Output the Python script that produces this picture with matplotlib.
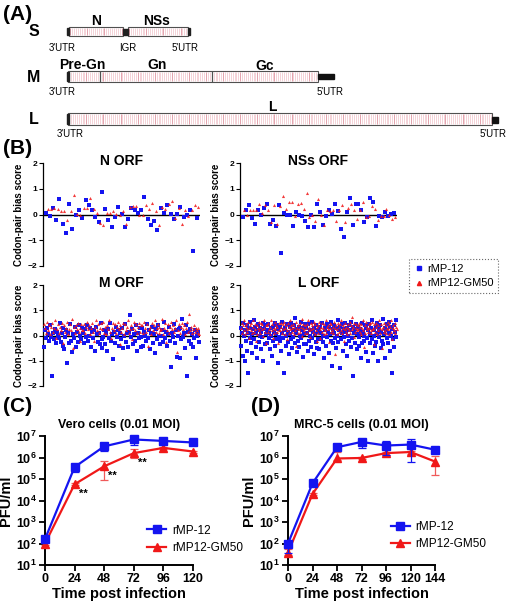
import matplotlib
matplotlib.use("Agg")
import matplotlib.pyplot as plt
import numpy as np
from matplotlib.patches import Rectangle
from matplotlib.ticker import FixedLocator, FuncFormatter

plt.rcParams['font.family'] = ['Liberation Sans', 'DejaVu Sans']
plt.rcParams['mathtext.fontset'] = 'custom'
plt.rcParams['mathtext.rm'] = 'Liberation Sans:bold'
plt.rcParams['mathtext.bf'] = 'Liberation Sans:bold'
plt.rcParams['mathtext.default'] = 'bf'

W, H = 512, 603
BLUE = '#1414f0'
RED = '#f01818'

# ---- codon-pair bias scores ----
n_blue = [0.05, -0.04, 0.26, -0.2, 0.61, -0.35, -0.71, 0.39, -0.55, -0.01, 0.17, -0.13,
          0.55, 0.35, 0.16, -0.1, -0.3, 0.87, 0.22, -0.22, -0.49, -0.09, 0.31, 0.03,
          -0.49, -0.17, 0.26, 0.18, 0.04, 0.19, 0.68, -0.18, -0.39, -0.26, -0.6, 0.25,
          0.04, 0.36, 0.03, -0.17, 0.03, 0.29, -0.1, -0.01, 0.19, -1.4, -0.12]
n_red = [0.23, 0.22, 0.25, 0.23, 0.13, 0.13, -0.21, 0.12, 0.77, 0.03, 0.0, 0.25,
         0.25, 0.64, 0.22, 0.05, -0.34, -0.42, 0.06, 0.06, 0.12, 0.03, 0.0, 0.13,
         -0.35, 0.31, 0.32, 0.34, -0.01, -0.03, 0.36, 0.22, 0.43, 0.14, -0.42, 0.3,
         0.22, 0.39, 0.53, -0.13, 0.26, -0.36, 0.18, -0.05, 0.19, 0.35, 0.29]
nss_blue = [-0.09, 0.19, 0.35, -0.13, -0.36, 0.16, -0.03, 0.25, 0.39, -0.36, -0.22, -0.43,
            0.36, -1.49, 0.04, -0.03, -0.03, -0.43, 0.1, -0.03, -0.04, -0.27, -0.47, -0.03,
            -0.47, 0.39, 0.09, -0.39, -0.06, 0.18, 0.01, 0.42, 0.13, -0.58, -0.87, 0.1,
            0.65, -0.42, 0.42, 0.39, 0.16, -0.31, -0.08, 0.65, 0.47, -0.45, -0.05, -0.09,
            0.1, -0.04, 0.03, 0.04]
nss_red = [0.18, 0.0, 0.19, 0.16, 0.16, 0.39, 0.04, 0.35, 0.19, -0.31, 0.36, -0.36,
           0.32, 0.7, 0.23, 0.49, 0.49, -0.06, 0.42, 0.43, 0.23, 0.83, -0.1, 0.0,
           -0.26, 0.6, -0.03, -0.39, 0.17, 0.13, 0.16, -0.26, 0.19, 0.38, -0.3, 0.26,
           0.4, 0.19, -0.19, 0.19, 0.49, -0.09, -0.06, 0.34, 0.22, -0.23, -0.04, -0.05,
           0.23, -0.03, -0.19, -0.1]
m_blue_txt = """
-0.45 0.2 -0.1 0.3 0.05 -0.2 0.4 -0.05 -1.6 0.1 -0.15 0.25 -0.3 0.15 0.0 -0.1 0.5 -0.25 0.1 -0.4
0.3 -0.55 -0.05 0.2 -1.1 0.1 -0.3 0.45 -0.2 -0.65 0.05 -0.1 0.35 -0.45 0.15 -0.25 0.4 0.0 -0.15 0.3
0.1 -0.3 0.25 -0.05 0.4 -0.2 0.0 0.3 -0.45 0.15 -0.1 0.2 -0.6 0.35 0.05 -0.25 0.1 -0.35 0.5 -0.15
-0.5 -0.05 0.2 -0.35 0.1 -0.6 0.25 -0.1 0.5 -0.2 0.05 -0.95 0.15 -0.3 0.35 -0.05 0.2 -0.4 0.1 -0.15
0.3 -0.5 0.0 0.45 -0.25 0.1 -0.45 0.15 0.8 -0.05 0.25 -0.35 0.05 -0.2 0.4 -0.6 0.1 -0.1 0.3 -0.45
-0.05 0.3 -0.4 0.15 0.0 -0.2 0.45 -0.1 0.2 -0.55 0.1 0.35 -0.3 0.05 -0.7 0.25 -0.15 0.4 0.0 -0.35
0.0 0.2 -0.25 0.55 -0.1 0.15 -0.4 0.05 0.35 -0.2 -1.25 0.1 -0.05 0.45 -0.3 0.2 -0.85 0.0 0.25 -0.9
0.3 -0.15 0.65 -0.05 0.1 -0.5 0.4 -1.6 0.15 -0.2 0.25 -0.35 0.05 -0.45 -0.1 0.2 -0.9 0.0 0.15 -0.25
"""
m_red_txt = """
0.45 0.3 0.1 0.55 0.2 0.4 0.05 0.35 0.5 0.15 0.3 0.6 -0.1 0.25 0.45 0.1 0.35 0.2 0.5 -0.3
0.4 0.15 0.3 0.55 0.05 0.25 0.45 0.2 0.65 -0.5 0.35 0.1 0.4 0.25 0.5 0.15 0.3 -0.2 0.45 0.2
0.2 0.45 0.1 0.35 0.55 0.25 0.4 0.05 0.3 0.5 0.15 -0.2 0.35 0.6 0.2 0.45 0.1 0.3 0.5 0.25
0.55 0.1 0.35 0.05 0.4 0.25 0.6 0.15 -0.1 0.3 0.5 0.2 0.45 0.1 0.35 0.55 0.25 -0.35 0.4 0.15
0.3 0.5 0.05 0.45 0.2 0.35 0.6 0.1 0.25 0.4 -0.15 0.3 0.55 0.2 0.45 0.1 0.35 0.5 0.15 0.4
0.4 0.1 0.55 0.3 0.15 0.45 -0.4 0.25 0.35 0.05 0.5 0.2 0.4 0.6 0.15 0.3 0.45 0.1 0.35 0.2
0.25 0.65 0.05 0.3 0.5 -0.25 0.2 0.45 0.1 0.35 0.55 0.25 0.4 0.15 0.3 0.6 -0.65 0.2 0.45 0.1
0.35 0.5 0.25 0.4 0.05 0.3 0.55 0.15 0.85 0.2 0.35 0.1 0.25 0.4 0.15 0.3 0.2 0.1 0.3 0.05
"""
l_blue_txt = """
0.3 -0.4 0.1 -0.8 0.5 0.0 -1.0 0.2 -0.2 0.4 -0.6 0.1 -1.5 0.3 -0.1 0.55 -0.3 0.05 -0.7 0.25
0.6 -0.15 0.35 -0.45 0.1 -0.9 0.2 0.45 -0.25 0.0 0.3 -0.55 0.15 -0.05 0.5 -1.0 0.25 -0.35 0.4 0.05
0.2 -0.3 0.45 -0.1 0.1 -0.55 0.3 0.0 -0.8 0.35 -0.2 0.15 0.5 -0.4 0.05 -0.15 0.4 -1.1 0.25 -0.05
-0.2 0.35 -0.6 0.1 0.55 -0.1 0.2 -1.5 0.3 -0.4 0.0 0.45 -0.25 0.15 -0.75 0.35 0.05 -0.15 0.5 -0.5
0.2 -0.05 0.4 -0.3 0.7 0.1 -0.65 0.25 -0.2 0.35 -0.45 0.0 0.55 -0.1 0.2 -0.85 0.3 0.05 -0.35 0.45
-0.35 0.3 0.1 -0.6 0.45 -0.2 0.2 0.0 -0.45 0.55 -0.1 0.15 -0.75 0.3 0.05 -0.25 0.4 -0.5 0.2 -0.15
0.15 -0.55 0.35 -0.15 0.1 0.5 -0.25 0.0 -0.9 0.3 0.2 -0.4 0.45 -0.05 0.15 -0.7 0.35 0.05 -0.2 0.55
-1.2 0.25 -0.3 0.1 0.4 -0.1 0.3 -0.5 0.0 0.6 -0.25 0.2 -1.3 0.35 -0.15 0.1 0.45 -0.6 0.25 -0.05
0.5 -0.35 0.15 -0.8 0.3 0.0 0.4 -0.2 0.2 -0.45 0.55 -0.1 0.35 -1.6 0.1 -0.3 0.25 0.45 -0.55 0.05
0.35 -0.05 -0.4 0.25 0.1 -0.9 0.5 -0.3 0.15 0.0 -0.2 0.4 -0.65 0.3 -0.1 0.2 -1.0 0.45 0.05 -0.3
0.3 -0.15 0.6 -0.7 0.2 0.0 -0.4 0.35 -0.25 0.1 0.5 -1.0 0.25 -0.05 0.4 -0.5 0.15 -0.2 0.65 -0.35
0.05 0.3 -0.9 0.2 -0.1 0.45 -0.3 0.1 0.55 -0.6 0.35 0.0 -1.5 0.25 -0.15 0.4 -0.45 0.15 0.6 -0.05
"""
l_red_txt = """
0.3 0.5 0.1 0.4 0.2 0.6 0.05 0.35 0.45 0.15 0.25 0.55 -0.1 0.3 0.4 0.2 0.5 0.1 0.35 0.6
0.15 0.45 0.25 -0.2 0.4 0.05 0.3 0.55 0.2 0.35 0.1 0.5 0.25 0.45 0.0 0.3 0.6 0.15 -0.3 0.4
0.4 0.15 0.5 0.25 0.05 0.35 0.6 0.2 0.45 -0.1 0.3 0.1 0.55 0.25 0.4 0.15 0.35 -0.3 0.5 0.2
0.2 0.35 0.5 0.1 0.45 0.25 0.55 0.05 0.3 0.4 -0.15 0.2 0.5 0.35 0.1 0.6 0.25 0.4 0.15 0.3
0.45 0.05 0.35 0.2 0.55 -0.4 0.3 0.1 0.4 0.25 0.5 0.15 0.35 0.65 0.0 0.3 0.45 0.2 0.1 0.4
0.3 0.45 0.1 0.6 0.2 0.35 -0.05 0.5 0.25 0.4 0.15 0.3 0.55 0.05 0.45 0.2 0.35 -0.2 0.4 0.1
0.55 0.25 -0.1 0.35 0.15 0.5 0.3 0.05 0.45 0.2 0.6 0.1 0.35 0.25 0.4 -0.25 0.3 0.5 0.15 0.45
0.2 0.35 0.1 0.55 0.3 -0.75 0.4 0.25 0.05 0.5 0.15 0.35 0.45 0.2 0.6 0.1 0.3 0.4 -0.2 0.25
0.5 0.15 0.35 0.05 0.45 0.3 0.2 0.55 0.1 0.4 0.75 0.25 0.35 -0.05 0.5 0.15 0.3 0.45 0.2 0.4
0.25 0.5 0.15 0.35 0.45 0.05 0.3 0.6 0.2 -0.45 0.4 0.1 0.55 0.25 0.35 0.15 0.45 0.3 0.5 0.2
0.1 0.55 0.3 0.25 -0.35 0.45 0.15 0.35 0.5 0.05 0.4 0.2 0.6 0.3 0.1 0.45 -0.5 0.25 0.35 0.15
0.5 0.2 0.4 0.1 0.3 0.55 0.25 0.05 0.45 0.35 0.15 0.6 -0.15 0.3 0.4 0.2 0.5 0.1 0.35 0.25
"""
m_blue = [float(v) for v in m_blue_txt.split()]
m_red = [float(v) for v in m_red_txt.split()]
l_blue = [float(v) for v in l_blue_txt.split()]
l_red = [float(v) for v in l_red_txt.split()]

# ---- growth kinetics ----
vero_t = [0, 24, 48, 72, 96, 120]
vero_mp12 = [160, 3.6e5, 3.3e6, 6.9e6, 5.9e6, 5.0e6]
vero_mp12_lo = [130, 2.2e5, 2.0e6, 3.8e6, 5.5e6, 4.6e6]
vero_mp12_hi = [190, 4.5e5, 4.2e6, 7.8e6, 6.3e6, 5.4e6]
vero_gm50 = [100, 5.7e4, 3.9e5, 1.6e6, 2.8e6, 1.9e6]
vero_gm50_lo = [85, 5.0e4, 8.7e4, 1.0e6, 2.5e6, 1.7e6]
vero_gm50_hi = [115, 6.5e4, 6.9e5, 2.5e6, 3.1e6, 2.1e6]
vero_sig = [24, 48, 72]

mrc_t = [0, 24, 48, 72, 96, 120, 144]
mrc_mp12 = [100, 6.3e4, 3.0e6, 5.3e6, 3.6e6, 4.0e6, 2.3e6]
mrc_mp12_lo = [38, 5.5e4, 2.6e6, 2.7e6, 1.3e6, 6.5e5, 2.0e6]
mrc_mp12_hi = [130, 7.2e4, 3.4e6, 7.4e6, 6.0e6, 6.9e6, 2.6e6]
mrc_gm50 = [38, 2.0e4, 9.0e5, 9.5e5, 1.6e6, 1.8e6, 6.5e5]
mrc_gm50_lo = [28, 1.8e4, 8.0e5, 8.5e5, 1.3e6, 1.5e6, 1.5e5]
mrc_gm50_hi = [55, 2.2e4, 1.9e6, 1.05e6, 1.9e6, 2.1e6, 1.2e6]


def rect(x0, y0, x1, y1):
    return [x0 / W, 1 - y1 / H, (x1 - x0) / W, (y1 - y0) / H]


fig = plt.figure(figsize=(W / 100, H / 100), dpi=100)

# ---------------- (A) genome schematic ----------------
ax0 = fig.add_axes([0, 0, 1, 1])
ax0.set_xlim(0, W)
ax0.set_ylim(H, 0)
ax0.axis('off')


def orf_box(x0, x1, y0, y1):
    ax0.add_patch(Rectangle((x0, y0), x1 - x0, y1 - y0, facecolor='white',
                            edgecolor='#505050', lw=0.8, zorder=2))
    xs = np.arange(x0 + 1.2, x1 - 0.5, 1.9)
    ax0.vlines(xs, y0 + 0.6, y1 - 0.6, colors='#efb9c2', lw=0.45, zorder=3)
    ax0.vlines(xs[::9], y0 + 0.6, y1 - 0.6, colors='#d98a98', lw=0.45, zorder=3)


# S segment
orf_box(69, 123, 27, 36)
orf_box(128, 188, 27, 36)
ax0.add_patch(Rectangle((67, 28), 2, 7, color='#202020', zorder=4))
ax0.add_patch(Rectangle((123, 28.5), 5, 6, color='#202020', zorder=4))
ax0.add_patch(Rectangle((188, 28), 2, 7, color='#202020', zorder=4))
# M segment
orf_box(68, 318, 71, 82)
ax0.vlines([100, 212], 71, 82, colors='#505050', lw=0.9, zorder=4)
ax0.add_patch(Rectangle((67, 72), 1.5, 9, color='#202020', zorder=4))
ax0.add_patch(Rectangle((318, 74), 16, 4.5, color='#111111', zorder=4))
# L segment
orf_box(68, 492, 113, 125)
ax0.add_patch(Rectangle((67, 114), 1.5, 10, color='#202020', zorder=4))
ax0.add_patch(Rectangle((492, 117), 6, 5.5, color='#111111', zorder=4))

bold = dict(fontweight='bold', ha='center', va='center')
for name, y in [('S', 31), ('M', 77), ('L', 119)]:
    ax0.text(34, y, name, fontsize=11.5, **bold)
for name, x, y in [('N', 96, 21), ('NSs', 157, 21), ('Pre-Gn', 82, 65),
                   ('Gn', 157, 65), ('Gc', 265, 66), ('L', 272, 107)]:
    ax0.text(x, y, name, fontsize=10, **bold)
for name, x, y in [("3'UTR", 62, 48), ('IGR', 128, 48), ("5'UTR", 185, 48),
                   ("3'UTR", 62, 92), ("5'UTR", 330, 92),
                   ("3'UTR", 70, 134), ("5'UTR", 493, 134)]:
    ax0.text(x, y, name, fontsize=7, ha='center', va='center')

for lab, x, y in [('(A)', 18, 14), ('(B)', 18, 148), ('(C)', 18, 407), ('(D)', 266, 407)]:
    ax0.text(x, y, lab, fontsize=15, **bold)

# ---------------- (B) codon-pair bias ----------------
b_panels = [('N ORF', n_blue, n_red, (43, 163, 200, 266)),
            ('NSs ORF', nss_blue, nss_red, (240, 163, 397, 266)),
            ('M ORF', m_blue, m_red, (43, 285, 200, 386)),
            ('L ORF', l_blue, l_red, (240, 285, 397, 386))]
for title, blue, red, box in b_panels:
    ax = fig.add_axes(rect(*box))
    n = max(len(blue), len(red))
    big = n > 80
    ax.scatter(np.arange(len(blue)), blue, marker='s', s=5 if big else 7,
               color=BLUE, lw=0, zorder=3, clip_on=False)
    ax.scatter(np.arange(len(red)) + 0.45, red, marker='^', s=5 if big else 5,
               color=RED, lw=0, zorder=3, alpha=0.85, clip_on=False)
    ax.axhline(0, color='black', lw=1.0, zorder=2)
    ax.set_xlim(-1, n)
    ax.set_ylim(-2, 2)
    ax.set_yticks([-2, -1, 0, 1, 2])
    ax.tick_params(axis='y', labelsize=6, length=3, width=0.8, pad=1)
    for t in ax.get_yticklabels():
        t.set_fontweight('bold')
    ax.set_xticks([])
    for s in ['top', 'right', 'bottom']:
        ax.spines[s].set_visible(False)
    ax.spines['left'].set_linewidth(0.9)
    ax.set_title(title, fontsize=10, fontweight='bold', y=0.9)
    ax.set_ylabel('Codon-pair bias score', fontsize=7, fontweight='bold', labelpad=3)

hb = plt.Line2D([], [], marker='s', ls='none', color=BLUE, markersize=3)
hr = plt.Line2D([], [], marker='^', ls='none', color=RED, markersize=3)
leg = fig.legend([hb, hr], ['rMP-12', 'rMP12-GM50'], loc='center',
                 bbox_to_anchor=(453.5 / W, 1 - 276 / H), fontsize=8,
                 frameon=True, fancybox=False, handletextpad=0.3,
                 borderpad=0.4, labelspacing=0.45, handlelength=1.0)
leg.get_frame().set_linestyle(':')
leg.get_frame().set_edgecolor('#444444')
leg.get_frame().set_linewidth(0.8)

# ---------------- (C), (D) growth curves ----------------
def growth(box, t, a, alo, ahi, b, blo, bhi, title, leg_xy, sig=None):
    ax = fig.add_axes(rect(*box))
    ax.errorbar(t, a, yerr=[np.array(a) - np.array(alo), np.array(ahi) - np.array(a)],
                color=BLUE, marker='s', markersize=6, lw=1.6, capsize=3,
                elinewidth=0.9, capthick=0.9, clip_on=False, zorder=4)
    ax.errorbar(t, b, yerr=[np.array(b) - np.array(blo), np.array(bhi) - np.array(b)],
                color=RED, marker='^', markersize=6, lw=1.6, capsize=3,
                elinewidth=0.9, capthick=0.9, clip_on=False, zorder=3,
                ecolor='#f05a5a')
    ax.set_yscale('log')
    ax.set_ylim(10, 1e7)
    ax.set_xlim(0, t[-1])
    ax.set_xticks(t)
    ax.yaxis.set_major_locator(FixedLocator([10 ** k for k in range(1, 8)]))
    ax.yaxis.set_major_formatter(FuncFormatter(lambda v, p: r'$10^{%d}$' % round(np.log10(v))))
    ax.yaxis.set_minor_locator(FixedLocator([]))
    ax.tick_params(labelsize=9, width=1.3, length=4, pad=2)
    for tl in ax.get_xticklabels():
        tl.set_fontweight('bold')
    for s in ['top', 'right']:
        ax.spines[s].set_visible(False)
    for s in ['left', 'bottom']:
        ax.spines[s].set_linewidth(1.4)
    ax.set_title(title, fontsize=9, fontweight='bold', pad=6)
    ax.set_xlabel('Time post infection', fontsize=10.5, fontweight='bold', labelpad=1)
    ax.set_ylabel('PFU/ml', fontsize=10.5, fontweight='bold', labelpad=2)
    if sig is not None:
        for tt in sig:
            i = t.index(tt)
            ax.annotate('**', (tt, b[i]), xytext=(3, -9), textcoords='offset points',
                        fontsize=8, fontweight='bold')
    h1 = plt.Line2D([], [], color=BLUE, marker='s', markersize=6, lw=1.6)
    h2 = plt.Line2D([], [], color=RED, marker='^', markersize=6, lw=1.6)
    ax.legend([h1, h2], ['rMP-12', 'rMP12-GM50'], loc='center left',
              bbox_to_anchor=leg_xy, fontsize=8.5, frameon=False, handlelength=1.6,
              handletextpad=0.5, labelspacing=0.45, borderpad=0, borderaxespad=0)
    return ax


growth((45, 436, 193, 565), vero_t, vero_mp12, vero_mp12_lo, vero_mp12_hi,
       vero_gm50, vero_gm50_lo, vero_gm50_hi, 'Vero cells (0.01 MOI)', (0.69, 0.20),
       sig=vero_sig)
growth((288, 436, 435, 565), mrc_t, mrc_mp12, mrc_mp12_lo, mrc_mp12_hi,
       mrc_gm50, mrc_gm50_lo, mrc_gm50_hi, 'MRC-5 cells (0.01 MOI)', (0.70, 0.23))

fig.savefig('out.png', dpi=100)
